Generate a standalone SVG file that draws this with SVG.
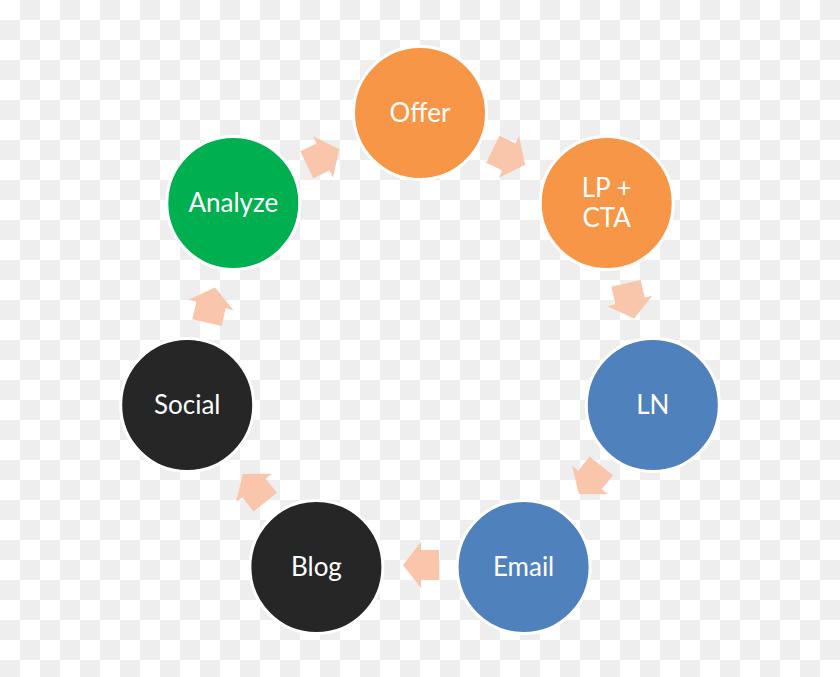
<svg xmlns="http://www.w3.org/2000/svg" width="840" height="677" viewBox="0 0 840 677">
<defs>
<pattern id="checker" width="40" height="40" patternUnits="userSpaceOnUse">
<rect width="40" height="40" fill="#ffffff"/>
<rect x="20" y="0" width="20" height="20" fill="#eeeeee"/>
<rect x="0" y="20" width="20" height="20" fill="#eeeeee"/>
</pattern>
<path id="arrow" d="M-18,-15 L0,-15 L0,-23 L18,0 L0,23 L0,15 L-18,15 Z"/>
</defs>
<style>
.node circle{stroke:#ffffff;stroke-width:3}
.lbl{font-family:Lato,"Open Sans","Liberation Sans",sans-serif;font-size:26px;fill:#ffffff;text-anchor:middle}
.orange{fill:#F79646}
.blue{fill:#4F81BD}
.green{fill:#00B050}
.black{fill:#262626}
#connectors use{fill:#F9C5AB}
</style>
<rect width="840" height="677" fill="url(#checker)"/>
<g id="connectors">
<use href="#arrow" transform="translate(509,157) rotate(25.7)"/>
<use href="#arrow" transform="translate(630,301) rotate(77.1)"/>
<use href="#arrow" transform="translate(590,480) rotate(128.6)"/>
<use href="#arrow" transform="translate(421,565) rotate(180)"/>
<use href="#arrow" transform="translate(254,488) rotate(231.4)"/>
<use href="#arrow" transform="translate(211,305) rotate(-77.1)"/>
<use href="#arrow" transform="translate(323,157) rotate(-25.7)"/>
</g>
<g id="offer" class="node"><circle class="orange" cx="420" cy="113" r="66.5"/><text class="lbl" x="420" y="122">Offer</text></g>
<g id="lpcta" class="node"><circle class="orange" cx="606.7" cy="203" r="66.5"/><text class="lbl" x="606.7" y="197">LP +</text><text class="lbl" x="606.7" y="227">CTA</text></g>
<g id="ln" class="node"><circle class="blue" cx="652.8" cy="405" r="66.5"/><text class="lbl" x="652.8" y="414">LN</text></g>
<g id="email" class="node"><circle class="blue" cx="523.6" cy="567" r="66.5"/><text class="lbl" x="523.6" y="576">Email</text></g>
<g id="blog" class="node"><circle class="black" cx="316.4" cy="567" r="66.5"/><text class="lbl" x="316.4" y="576">Blog</text></g>
<g id="social" class="node"><circle class="black" cx="187.2" cy="405" r="66.5"/><text class="lbl" x="187.2" y="414">Social</text></g>
<g id="analyze" class="node"><circle class="green" cx="233.3" cy="203" r="66.5"/><text class="lbl" x="233.3" y="212">Analyze</text></g>
</svg>
